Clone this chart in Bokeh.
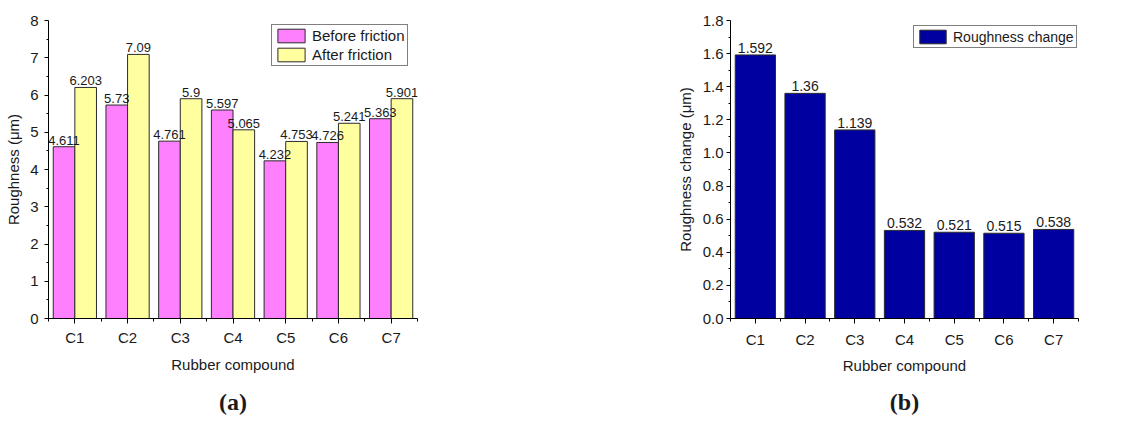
import numpy as np
from bokeh.plotting import figure
from bokeh.models import (ColumnDataSource, FixedTicker, Legend, LegendItem, Title,
                          NumeralTickFormatter, Range1d)
from bokeh.transform import dodge
from bokeh.layouts import row
from bokeh.embed import file_html
from bokeh.resources import INLINE
from bokeh.core.properties import value

# ---------------- data ----------------
compounds = ["C1", "C2", "C3", "C4", "C5", "C6", "C7"]
before_friction = [4.611, 5.73, 4.761, 5.597, 4.232, 4.726, 5.363]
after_friction = [6.203, 7.09, 5.9, 5.065, 4.753, 5.241, 5.901]
roughness_change = [1.592, 1.36, 1.139, 0.532, 0.521, 0.515, 0.538]
left_yticks = [0, 1, 2, 3, 4, 5, 6, 7, 8]
right_yticks = [0.0, 0.2, 0.4, 0.6, 0.8, 1.0, 1.2, 1.4, 1.6, 1.8]

FONT = "Liberation Sans"
PINK = "#FF80FF"
YELLOW = "#FFFFA0"
NAVY = "#0000A0"
EDGE = "#2b2b2b"
TXT = "#1a1a1a"

xpos = list(range(1, len(compounds) + 1))
bounds = [i + 0.5 for i in range(len(compounds) + 1)]
overrides = {x: c for x, c in zip(xpos, compounds)}


def style(p, ticks, minor, fs_tick, fs_label):
    p.outline_line_color = None
    p.xgrid.visible = False
    p.ygrid.visible = False
    for ax in (p.xaxis[0], p.yaxis[0]):
        ax.axis_line_color = "black"
        ax.axis_line_width = 1
        ax.major_tick_line_color = "black"
        ax.minor_tick_line_color = "black"
        ax.major_tick_in = 0
        ax.minor_tick_in = 0
        ax.major_label_text_font = FONT
        ax.major_label_text_font_size = fs_tick
        ax.major_label_text_color = TXT
        ax.axis_label_text_font = FONT
        ax.axis_label_text_font_size = fs_label
        ax.axis_label_text_font_style = "normal"
        ax.axis_label_text_color = TXT
    p.xaxis.ticker = FixedTicker(ticks=xpos, minor_ticks=bounds)
    p.xaxis.major_label_overrides = overrides
    p.xaxis.major_tick_out = 5
    p.xaxis.minor_tick_out = 3
    p.xaxis.major_label_standoff = 5
    p.xaxis.axis_label = "Rubber compound"
    p.yaxis.ticker = FixedTicker(ticks=ticks, minor_ticks=minor)
    p.yaxis.major_tick_out = 4
    p.yaxis.minor_tick_out = 2


# ---------------- panel (a) ----------------
src_a = ColumnDataSource(dict(
    x=xpos, before=before_friction, after=after_friction,
    before_txt=[f"{v:g}" for v in before_friction],
    after_txt=[f"{v:g}" for v in after_friction],
))

p1 = figure(width=560, height=427, output_backend="svg", toolbar_location=None,
            x_range=Range1d(0.5, len(compounds) + 0.5), y_range=Range1d(0, 8),
            min_border_left=48, min_border_right=143, min_border_top=20,
            min_border_bottom=109)
style(p1, left_yticks, [t + 0.5 for t in left_yticks[:-1]], "15px", "15px")
p1.yaxis.axis_label = "Roughness (μm)"
p1.yaxis.major_label_standoff = 6
p1.yaxis.axis_label_standoff = 5
p1.xaxis.axis_label_standoff = 7

bw = 0.41
r1 = p1.vbar(x=dodge("x", -bw / 2), top="before", width=bw, source=src_a,
             fill_color=PINK, line_color=EDGE, line_width=1)
r2 = p1.vbar(x=dodge("x", bw / 2), top="after", width=bw, source=src_a,
             fill_color=YELLOW, line_color=EDGE, line_width=1)
p1.text(x=dodge("x", -bw / 2), y="before", text="before_txt", source=src_a,
        text_align="center", text_baseline="bottom", y_offset=-2,
        text_font=value(FONT), text_font_size="13px", text_color=TXT)
p1.text(x=dodge("x", bw / 2), y="after", text="after_txt", source=src_a,
        text_align="center", text_baseline="bottom", y_offset=-2,
        text_font=value(FONT), text_font_size="13px", text_color=TXT)

leg1 = Legend(items=[LegendItem(label="Before friction", renderers=[r1]),
                     LegendItem(label="After friction", renderers=[r2])],
              location=(223, 252), padding=2, spacing=2, margin=0,
              glyph_width=34, glyph_height=17, label_height=17,
              label_standoff=4, label_text_font=FONT, label_text_font_size="15px",
              label_text_color=TXT, border_line_color="black", border_line_width=1,
              background_fill_alpha=1)
p1.add_layout(leg1)
p1.add_layout(Title(text="(a)", align="center", text_font="Liberation Serif",
                    text_font_size="24px", text_font_style="bold", offset=-10,
                    standoff=22, text_color=TXT), "below")

# ---------------- panel (b) ----------------
src_b = ColumnDataSource(dict(
    x=xpos, change=roughness_change,
    change_txt=[f"{v:g}" for v in roughness_change],
))

p2 = figure(width=563, height=427, output_backend="svg", toolbar_location=None,
            x_range=Range1d(0.5, len(compounds) + 0.5), y_range=Range1d(0, 1.8),
            min_border_left=170, min_border_right=45, min_border_top=19,
            min_border_bottom=108)
style(p2, right_yticks, [round(t + 0.1, 2) for t in right_yticks[:-1]], "15px", "15px")
p2.yaxis.axis_label = "Roughness change (μm)"
p2.yaxis.formatter = NumeralTickFormatter(format="0.0")
p2.yaxis.major_label_standoff = 3
p2.yaxis.axis_label_standoff = 6
p2.xaxis.major_label_standoff = 7
p2.xaxis.axis_label_standoff = 6

r3 = p2.vbar(x="x", top="change", width=0.81, source=src_b,
             fill_color=NAVY, line_color=EDGE, line_width=1)
p2.text(x="x", y="change", text="change_txt", source=src_b,
        text_align="center", text_baseline="bottom", y_offset=-2,
        text_font=value(FONT), text_font_size="14px", text_color=TXT)

leg2 = Legend(items=[LegendItem(label="Roughness change", renderers=[r3])],
              location=(183, 270), padding=2, spacing=0, margin=0,
              glyph_width=33, glyph_height=17, label_height=17,
              label_standoff=4, label_text_font=FONT, label_text_font_size="14px",
              label_text_color=TXT, border_line_color="black", border_line_width=1,
              background_fill_alpha=1)
p2.add_layout(leg2)
p2.add_layout(Title(text="(b)", align="center", text_font="Liberation Serif",
                    text_font_size="24px", text_font_style="bold", offset=-9,
                    standoff=20, text_color=TXT), "below")

layout = row(p1, p2)
open("out.html", "w").write(file_html(layout, INLINE))
